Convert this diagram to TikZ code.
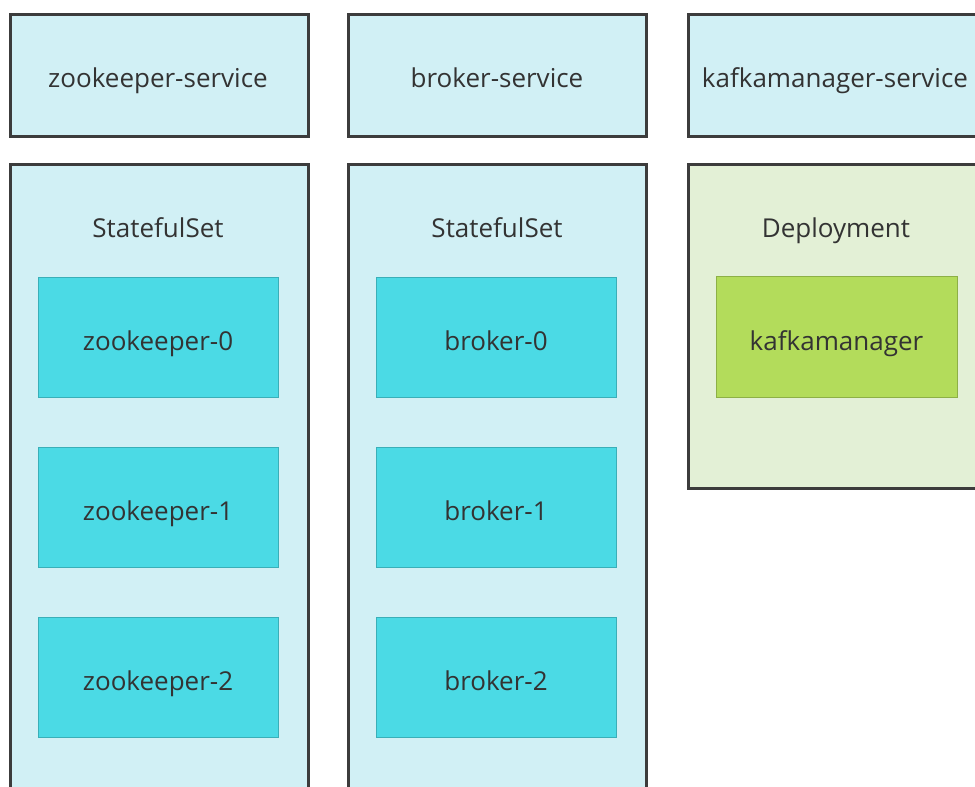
\documentclass[tikz,border=0pt]{standalone}
\usepackage{fontspec}
\setmainfont{Open Sans}
\definecolor{lightcyan}{HTML}{D1F0F5}
\definecolor{podcyan}{HTML}{4BDAE5}
\definecolor{podedge}{HTML}{3AAFB8}
\definecolor{lightgreen}{HTML}{E3F0D6}
\definecolor{podgreen}{HTML}{B3DC5B}
\definecolor{greenedge}{HTML}{8DB046}
\definecolor{frame}{HTML}{3C3C3C}
\definecolor{txt}{HTML}{333333}
\begin{document}
\begin{tikzpicture}[x=0.75pt,y=-0.75pt,
  font=\fontsize{19.5}{22}\selectfont, text=txt,
  outer/.style={draw=frame, line width=2.2pt, inner sep=0pt, anchor=north west},
  svc/.style={outer, fill=lightcyan, minimum width=298*0.75pt, minimum height=122*0.75pt},
  grp/.style={outer, minimum width=298*0.75pt},
  pod/.style={draw=podedge, line width=0.6pt, fill=podcyan, minimum width=240*0.75pt, minimum height=120*0.75pt, inner sep=0pt},
  gpod/.style={pod, draw=greenedge, fill=podgreen},
  lbl/.style={inner sep=0pt, anchor=base}]
\useasboundingbox (0,0) rectangle (975,787);
\clip (0,0) rectangle (975,787);
% services
\node[svc] (zks) at (9,13) {};
\node[lbl] (zkst) at (158,88) {zookeeper-service};
\node[svc] (brs) at (347,13) {};
\node[lbl] (brst) at (497,88) {broker-service};
\node[svc] (kms) at (687,13) {};
\node[lbl] (kmst) at (835,88) {kafkamanager-service};
% groups
\node[grp, fill=lightcyan, minimum height=660*0.75pt] (zkg) at (9,163) {};
\node[lbl] (zkgl) at (158,238) {StatefulSet};
\node[grp, fill=lightcyan, minimum height=660*0.75pt] (brg) at (347,163) {};
\node[lbl] (brgl) at (497,238) {StatefulSet};
\node[grp, fill=lightgreen, minimum height=324*0.75pt] (kmg) at (687,163) {};
\node[lbl] (kmgl) at (836,238) {Deployment};
% pods
\node[pod] (zk0) at (158,337) {};
\node[lbl] at (158,351) {zookeeper-0};
\node[pod] (zk1) at (158,507) {};
\node[lbl] at (158,521) {zookeeper-1};
\node[pod] (zk2) at (158,677) {};
\node[lbl] at (158,691) {zookeeper-2};
\node[pod] (br0) at (496,337) {};
\node[lbl] at (496,351) {broker-0};
\node[pod] (br1) at (496,507) {};
\node[lbl] at (496,521) {broker-1};
\node[pod] (br2) at (496,677) {};
\node[lbl] at (496,691) {broker-2};
\node[gpod, minimum width=241*0.75pt, minimum height=121*0.75pt] (km) at (836.5,337) {};
\node[lbl] at (836.5,351) {kafkamanager};
\end{tikzpicture}
\end{document}
